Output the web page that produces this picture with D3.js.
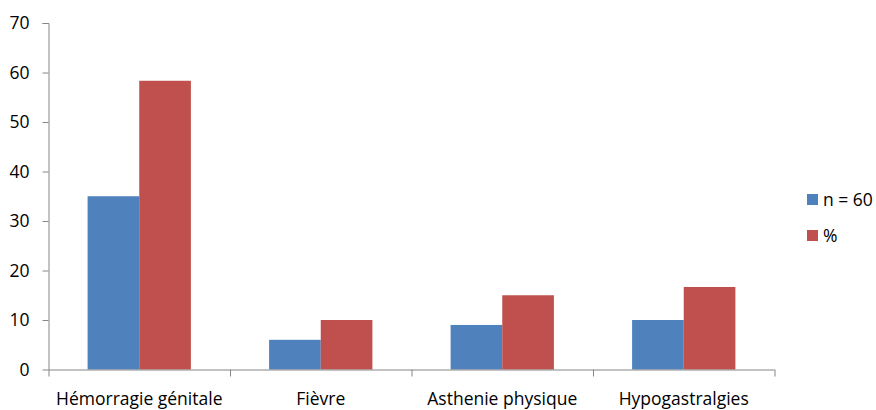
<!DOCTYPE html>
<html>
<head>
<meta charset="utf-8">
<script src="https://cdn.jsdelivr.net/npm/d3@7"></script>
<style>
  body { margin: 0; background: #fff; }
  svg { display: block; font-family: "Open Sans", sans-serif; }
</style>
</head>
<body>
<svg id="chart" width="876" height="410"></svg>
<script>
// Symptoms and their counts (n = 60) and percentages
const categories = ["Hémorragie génitale", "Fièvre", "Asthenie physique", "Hypogastralgies"];
const seriesNames = ["n = 60", "%"];
const countValues = [35, 6, 9, 10];
const percentValues = [58.33, 10, 15, 16.67];
const yTicks = [0, 10, 20, 30, 40, 50, 60, 70];
const colors = ["#4F81BD", "#C0504D"];

const fontSize = 17.5;
const svg = d3.select("#chart");
const margin = { left: 48.5, right: 876 - 774.5, top: 23, bottom: 410 - 369.5 };
const plotW = 876 - margin.left - margin.right;
const plotH = 410 - margin.top - margin.bottom;

const g = svg.append("g").attr("transform", `translate(${margin.left},${margin.top})`);

const x = d3.scaleBand().domain(categories).range([0, plotW]).paddingInner(0).paddingOuter(0);
const y = d3.scaleLinear().domain([0, 70]).range([plotH, 0]);
const inner = d3.scaleBand().domain(seriesNames).range([39.1, x.bandwidth() - 39.1]);

const rows = categories.map((c, i) => ({ cat: c, vals: [countValues[i], percentValues[i]] }));

// bars
g.selectAll("g.cat").data(rows).join("g")
  .attr("class", "cat")
  .attr("transform", d => `translate(${x(d.cat)},0)`)
  .selectAll("rect")
  .data(d => d.vals.map((v, j) => ({ name: seriesNames[j], v, j })))
  .join("rect")
  .attr("x", d => inner(d.name))
  .attr("width", inner.bandwidth())
  .attr("y", d => y(d.v))
  .attr("height", d => plotH - y(d.v))
  .attr("fill", d => colors[d.j]);

// y axis
const yAxis = g.append("g").call(d3.axisLeft(y).tickValues(yTicks).tickSize(6).tickPadding(13));
yAxis.select(".domain").attr("stroke", "#868686").attr("d", `M-6,0.5H0.5V${plotH}`);
yAxis.selectAll(".tick line").attr("stroke", "#868686");
yAxis.selectAll(".tick text").attr("font-size", fontSize).attr("fill", "#000").attr("font-family", "'Open Sans', sans-serif");

// x axis with ticks at category boundaries
const xa = g.append("g").attr("transform", `translate(0,${plotH})`);
xa.append("line").attr("x1", 0).attr("x2", plotW).attr("y1", 0.5).attr("y2", 0.5).attr("stroke", "#868686");
const bounds = categories.map(c => x(c)).concat([plotW]);
xa.selectAll("line.b").data(bounds).join("line")
  .attr("class", "b")
  .attr("x1", d => d + 0.5).attr("x2", d => d + 0.5)
  .attr("y1", 0).attr("y2", 7)
  .attr("stroke", "#868686");
xa.selectAll("text").data(categories).join("text")
  .attr("x", d => x(d) + x.bandwidth() / 2)
  .attr("y", 35.5)
  .attr("text-anchor", "middle")
  .attr("font-size", fontSize)
  .attr("fill", "#000")
  .text(d => d);

// legend
const legend = svg.append("g").attr("transform", "translate(807,194)");
seriesNames.forEach((s, i) => {
  const row = legend.append("g").attr("transform", `translate(0,${i * 36})`);
  row.append("rect").attr("width", 11).attr("height", 11).attr("fill", colors[i]);
  row.append("text").attr("x", 16).attr("y", 12).attr("font-size", fontSize).attr("fill", "#000").text(s);
});
</script>
</body>
</html>
